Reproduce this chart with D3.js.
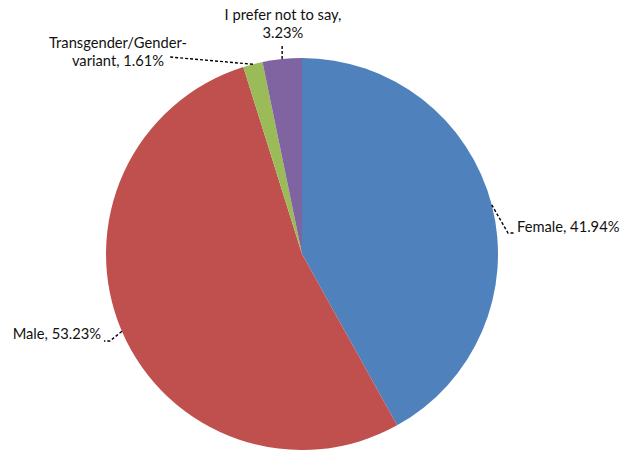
<!DOCTYPE html>
<html><head><meta charset="utf-8">
<script src="https://cdn.jsdelivr.net/npm/d3@7"></script>
<style>body{margin:0;background:#fff}svg{display:block}</style>
</head><body>
<script>
const categories = ["Female", "Male", "Transgender/Gender-variant", "I prefer not to say"];
const values = [41.94, 53.23, 1.61, 3.23];
const colors = ["#4F81BD", "#C0504D", "#9BBB59", "#8064A2"];
const labelLines = [["Female, 41.94%"], ["Male, 53.23%"], ["Transgender/Gender-", "variant, 1.61%"], ["I prefer not to say,", "3.23%"]];

const W = 623, H = 450, cx = 302, cy = 254, R = 196;
const svg = d3.select("body").append("svg").attr("width", W).attr("height", H);
const g = svg.append("g").attr("transform", `translate(${cx},${cy})`);
const pie = d3.pie().sort(null).value(d => d);
const arcs = pie(values);
const arc = d3.arc().innerRadius(0).outerRadius(R);
g.selectAll("path.slice").data(arcs).enter().append("path")
  .attr("d", arc).attr("fill", (d, i) => colors[i]).attr("stroke", "none");

const labelPos = [
  {x: 517, y: 232, anchor: "start"},
  {x: 101, y: 339, anchor: "end"},
  {x: 118, y: 48, anchor: "middle"},
  {x: 283, y: 20, anchor: "middle"}
];
const font = "Lato, 'Open Sans', sans-serif";
labelLines.forEach((lines, i) => {
  const p = labelPos[i];
  const t = svg.append("text").attr("x", p.x).attr("y", p.y).attr("text-anchor", p.anchor)
    .attr("font-family", font).attr("font-size", 14.7).attr("fill", "#111");
  lines.forEach((l, j) => t.append("tspan").attr("x", p.x).attr("dy", j === 0 ? 0 : 18).text(l));
});

function mid(i) {
  const a = (arcs[i].startAngle + arcs[i].endAngle) / 2;
  return [cx + R * Math.sin(a), cy - R * Math.cos(a)];
}
const line = d3.line();
const leaders = [
  [mid(0), [508, 233], [515, 233]],
  [mid(1), [110, 341], [104, 341]],
  [mid(2), [170, 57]],
  [mid(3), [mid(3)[0], 46]]
];
leaders.forEach(pts => {
  svg.append("path").attr("d", line(pts)).attr("fill", "none")
    .attr("stroke", "#000").attr("stroke-width", 1.4).attr("stroke-dasharray", "3,2");
});
</script>
</body></html>
